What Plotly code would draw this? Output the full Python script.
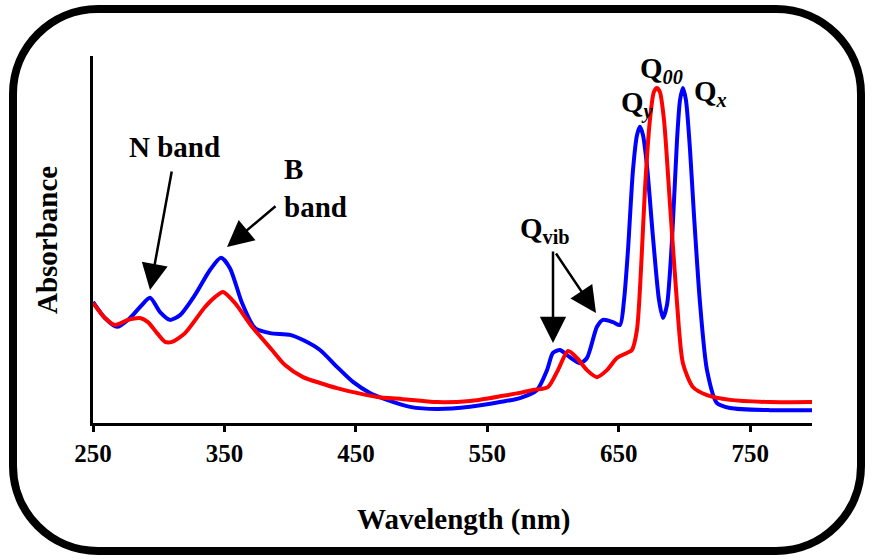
import plotly.graph_objects as go

# ---- data ----
blue_wl = [250.0, 259.1, 268.3, 278.1, 285.8, 293.4, 301.0, 308.6, 316.2, 327.6, 339.0, 347.4, 354.2,
           363.4, 373.2, 384.7, 399.9, 409.8, 422.7, 435.6, 447.8, 460.7, 473.7, 491.2, 511.7, 536.8,
           559.6, 574.8, 587.8, 595.4, 599.9, 605.3, 610.6, 620.5, 625.8, 633.4, 638.0, 645.6, 650.9,
           654.0, 657.0, 660.8, 663.9, 666.1, 668.4, 671.4, 676.0, 680.6, 683.6, 686.7, 690.5, 694.3,
           696.6, 698.8, 701.1, 704.2, 707.2, 711.8, 717.1, 724.7, 734.6, 765.0, 797.0]
blue_abs = [0.330, 0.286, 0.262, 0.286, 0.316, 0.341, 0.302, 0.281, 0.294, 0.349, 0.417, 0.450, 0.422,
            0.327, 0.259, 0.245, 0.240, 0.226, 0.199, 0.153, 0.112, 0.082, 0.063, 0.044, 0.038, 0.044,
            0.057, 0.068, 0.090, 0.144, 0.191, 0.199, 0.185, 0.163, 0.177, 0.262, 0.281, 0.275, 0.267,
            0.335, 0.471, 0.689, 0.785, 0.807, 0.785, 0.703, 0.507, 0.335, 0.286, 0.322, 0.499, 0.771,
            0.880, 0.913, 0.880, 0.744, 0.567, 0.327, 0.144, 0.054, 0.041, 0.035, 0.035]

red_wl = [250.0, 259.1, 266.7, 276.6, 285.8, 291.8, 298.7, 304.8, 310.1, 320.0, 335.2, 342.8, 348.9,
          358.0, 371.0, 386.2, 396.1, 409.8, 422.7, 435.6, 450.8, 466.0, 485.8, 511.7, 536.8, 561.9,
          574.8, 584.7, 596.1, 603.7, 611.4, 618.2, 625.8, 633.4, 641.0, 648.6, 656.2, 660.0, 663.8,
          666.9, 669.9, 673.7, 676.7, 679.0, 681.3, 684.4, 688.9, 694.3, 698.8, 706.4, 717.1, 734.6,
          765.0, 797.0]
red_abs = [0.327, 0.286, 0.267, 0.281, 0.286, 0.275, 0.245, 0.221, 0.221, 0.245, 0.316, 0.343, 0.357,
           0.327, 0.262, 0.199, 0.158, 0.125, 0.109, 0.095, 0.082, 0.071, 0.065, 0.057, 0.060, 0.074,
           0.082, 0.090, 0.098, 0.144, 0.196, 0.177, 0.144, 0.125, 0.144, 0.177, 0.191, 0.199, 0.253,
           0.417, 0.635, 0.826, 0.902, 0.913, 0.902, 0.826, 0.599, 0.327, 0.163, 0.098, 0.076, 0.063,
           0.057, 0.057]

tick_vals = [250, 350, 450, 550, 650, 750]
tick_text = ["250", "350", "450", "550", "650", "750"]

# ---- layout geometry (pixels) ----
W, H = 872, 560
ML, MR, MT, MB = 93, 60, 56, 137
PW, PH = W - ML - MR, H - MT - MB
XR = [250, 797]
YR = [0, 1]


def dx(px):
    return XR[0] + (px - ML) / PW * (XR[1] - XR[0])


def dy(py):
    return YR[0] + (MT + PH - py) / PH * (YR[1] - YR[0])


def P(px, py):
    return f"{(px - ML) / PW:.5f},{(MT + PH - py) / PH:.5f}"


FONT = "Liberation Serif"

fig = go.Figure()
fig.add_trace(go.Scatter(x=blue_wl, y=blue_abs, mode="lines",
                         line=dict(color="#0000FF", width=4, shape="spline", smoothing=0.7),
                         hoverinfo="skip"))
fig.add_trace(go.Scatter(x=red_wl, y=red_abs, mode="lines",
                         line=dict(color="#FF0000", width=4, shape="spline", smoothing=0.7),
                         hoverinfo="skip"))

annotations = []


def text(px, py, t, size=29, xanchor="center", align="center"):
    annotations.append(dict(x=dx(px), y=dy(py), xref="x", yref="y", text=f"<b>{t}</b>",
                            showarrow=False, xanchor=xanchor, yanchor="middle", align=align,
                            font=dict(family=FONT, size=size, color="black")))


def arrow(tail, tip):
    annotations.append(dict(x=dx(tip[0]), y=dy(tip[1]), ax=dx(tail[0]), ay=dy(tail[1]),
                            xref="x", yref="y", axref="x", ayref="y", text="",
                            showarrow=True, arrowhead=2, arrowsize=2.1, arrowwidth=2.5,
                            arrowcolor="black", standoff=0, startstandoff=0))


text(174, 147, "N band")
arrow((172, 170), (150, 290))
text(282, 188, "B<br>band", xanchor="left", align="left")
arrow((277, 205), (227, 247))
text(545, 230, "Q<sub>vib</sub>")
arrow((553, 250), (553, 343))
arrow((555, 252), (596, 313))
text(637, 104, "Q<sub><i>y</i></sub>")
text(661, 70, "Q<sub><i>00</i></sub>")
text(710, 93, "Q<sub><i>x</i></sub>")

# axis titles
annotations.append(dict(x=(463 - ML) / PW, y=(MT + PH - 519) / PH, xref="paper", yref="paper",
                        text="<b>Wavelength (nm)</b>", showarrow=False, xanchor="center",
                        yanchor="middle", font=dict(family=FONT, size=29, color="black")))
annotations.append(dict(x=(47 - ML) / PW, y=(MT + PH - 240) / PH, xref="paper", yref="paper",
                        text="<b>Absorbance</b>", showarrow=False, xanchor="center", yanchor="middle",
                        textangle=-90, font=dict(family=FONT, size=29, color="black")))

# rounded outer frame
L, R, T, B = 13, 861, 9, 551
r = 85
k = 0.5523 * r
path = (f"M{P(L + r, T)} L{P(R - r, T)} C{P(R - r + k, T)} {P(R, T + r - k)} {P(R, T + r)} "
        f"L{P(R, B - r)} C{P(R, B - r + k)} {P(R - r + k, B)} {P(R - r, B)} "
        f"L{P(L + r, B)} C{P(L + r - k, B)} {P(L, B - r + k)} {P(L, B - r)} "
        f"L{P(L, T + r)} C{P(L, T + r - k)} {P(L + r - k, T)} {P(L + r, T)} Z")

fig.update_layout(
    width=W, height=H,
    margin=dict(l=ML, r=MR, t=MT, b=MB, pad=0),
    paper_bgcolor="white", plot_bgcolor="white",
    showlegend=False,
    annotations=annotations,
    shapes=[dict(type="path", path=path, xref="paper", yref="paper",
                 line=dict(color="black", width=8), fillcolor="rgba(0,0,0,0)")],
    xaxis=dict(range=XR, tickvals=tick_vals, ticktext=tick_text, showgrid=False, zeroline=False,
               showline=True, linecolor="black", linewidth=3, ticks="outside", ticklen=6,
               tickwidth=2.5, tickcolor="black",
               tickfont=dict(family=FONT, size=25, color="black", weight="bold")),
    yaxis=dict(range=YR, showgrid=False, zeroline=False, showticklabels=False, ticks="",
               showline=True, linecolor="black", linewidth=3),
)

fig.write_html("out.html", config={"displayModeBar": False},
               post_script="document.body.style.margin='0';document.body.style.overflow='hidden';")
